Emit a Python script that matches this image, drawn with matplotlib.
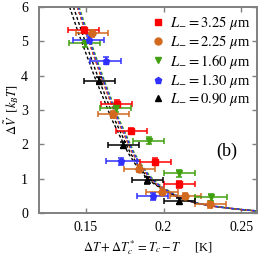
import matplotlib
matplotlib.use("Agg")
import matplotlib.pyplot as plt
from matplotlib.lines import Line2D

plt.rcParams['font.family'] = ['Liberation Serif', 'DejaVu Serif']
plt.rcParams['mathtext.fontset'] = 'stix'

# data points: (Tc - T, barrier)
x_325 = [0.1487, 0.1699, 0.1792, 0.1948, 0.2100]
y_325 = [5.33, 3.18, 2.39, 1.49, 0.84]
x_225 = [0.1540, 0.1676, 0.1844, 0.1990, 0.2140, 0.2300]
y_225 = [5.23, 2.87, 1.29, 0.62, 0.49, 0.26]
x_160 = [0.1494, 0.1693, 0.1905, 0.2102, 0.2305]
y_160 = [4.94, 3.05, 2.11, 1.16, 0.46]
x_130 = [0.1520, 0.1628, 0.1727, 0.1930]
y_130 = [5.04, 4.43, 1.51, 0.49]
x_090 = [0.1586, 0.1742, 0.1894, 0.2100]
y_090 = [3.85, 1.98, 0.96, 0.35]
xerr = 0.010
yerr = 0.10

# fit curves, sampled from the figure
fit_x = [0.1445, 0.150, 0.155, 0.160, 0.165, 0.170, 0.175, 0.180, 0.185,
         0.190, 0.195, 0.200, 0.210, 0.220, 0.230, 0.240, 0.250, 0.260]
fit_y = [6.0, 5.25, 4.60, 3.95, 3.35, 2.75, 2.25, 1.75, 1.38,
         1.08, 0.86, 0.70, 0.45, 0.30, 0.21, 0.15, 0.10, 0.06]
fit_x_k = [0.1396, 0.1452, 0.1505, 0.1558, 0.1612, 0.1665, 0.1718, 0.1772,
           0.1825, 0.1880, 0.1935, 0.1990, 0.2095, 0.2200, 0.2300, 0.2400,
           0.2500, 0.2600]

series = [
    (x_325, y_325, 's', '#ff0000', r'$L_{-} = 3.25\ \mu$m'),
    (x_225, y_225, 'o', '#d2691e', r'$L_{-} = 2.25\ \mu$m'),
    (x_160, y_160, 'v', '#40a010', r'$L_{-} = 1.60\ \mu$m'),
    (x_130, y_130, 'p', '#3030ff', r'$L_{-} = 1.30\ \mu$m'),
    (x_090, y_090, '^', '#000000', r'$L_{-} = 0.90\ \mu$m'),
]

fig = plt.figure(figsize=(2.59, 2.57), dpi=100)
ax = fig.add_axes([0.151, 0.171, 0.841, 0.802])

# dashed fits
dash = (0, (2.2, 1.6))
ax.plot(fit_x_k, fit_y, color='k', lw=1.0, ls=dash)
ax.plot([(a + b) / 2 for a, b in zip(fit_x_k, fit_x)], fit_y, color='k', lw=1.0, ls=dash)
ax.plot(fit_x, fit_y, color='#ff0000', lw=1.0, ls=dash)
ax.plot(fit_x, fit_y, color='#d2691e', lw=1.0, ls=dash)
ax.plot([v + 0.0012 for v in fit_x], fit_y, color='#40a010', lw=1.0, ls=dash)
ax.plot([v + 0.0006 for v in fit_x], fit_y, color='#3030ff', lw=1.0, ls=dash)

handles = []
for xs, ys, m, c, lab in series:
    ax.errorbar(xs, ys, xerr=xerr, yerr=yerr, fmt=m, color=c, ms=5,
                elinewidth=1.1, capsize=2, capthick=1.1)
    handles.append(Line2D([], [], ls='none', marker=m, color=c, ms=5, label=lab))

ax.set_xlim(0.12, 0.26)
ax.set_ylim(0, 6)
ax.set_xticks([0.15, 0.2, 0.25])
ax.set_xticklabels(['0.15', '0.2', '0.25'])
ax.set_yticks([0, 1, 2, 3, 4, 5, 6])

for s in ax.spines.values():
    s.set_color('#808080')
    s.set_linewidth(1.4)
ax.tick_params(axis='both', direction='in', top=True, right=True, length=3.5,
               width=1, color='#808080', labelsize=10)
ax.tick_params(axis='y', pad=8)
ax.tick_params(axis='x', pad=6)

ax.set_xlabel(r'$\Delta T + \Delta T_c^* = T_c - T$     [K]', fontsize=9, labelpad=3)
ax.set_ylabel(r'$\Delta \tilde{V}$  $[k_BT]$', fontsize=9, labelpad=1)

ax.text(0.2405, 1.8, '(b)', fontsize=13, ha='center', va='center')

ax.legend(handles=handles, loc='upper right', frameon=False, fontsize=10.5,
          handlelength=0.8, handletextpad=0.4, labelspacing=0.08,
          borderaxespad=0.2, borderpad=0.3)

fig.savefig('out.png', dpi=100)
